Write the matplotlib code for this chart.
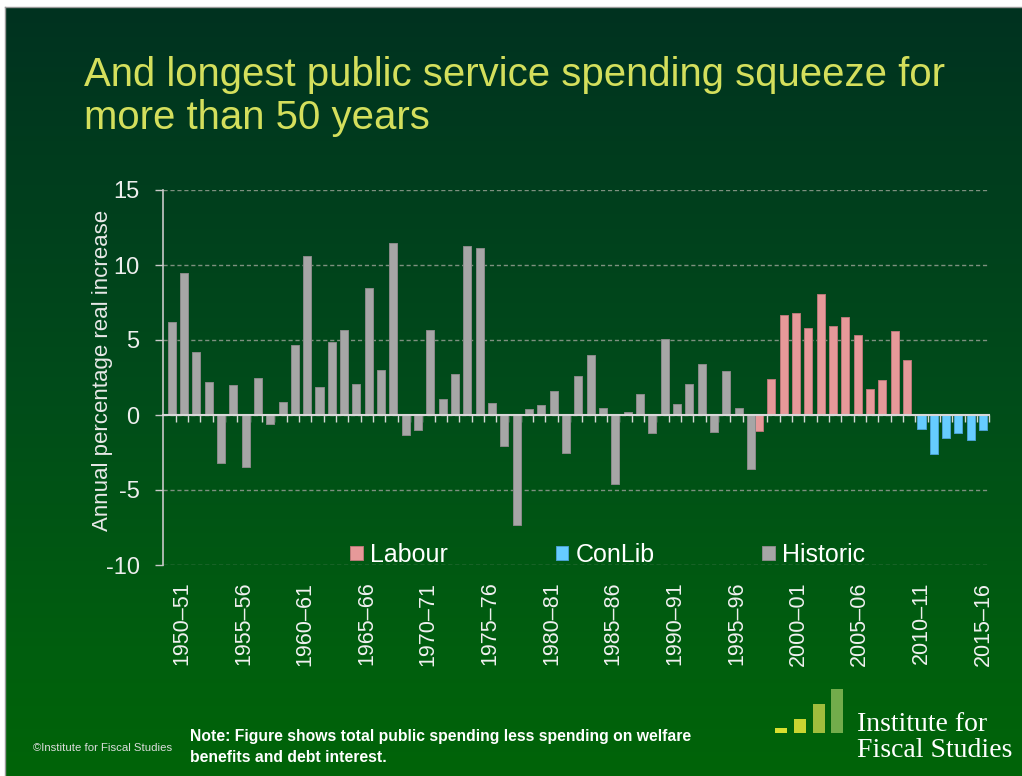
import numpy as np
import matplotlib.pyplot as plt
from matplotlib.patches import Rectangle

plt.rcParams['font.family'] = ['Liberation Sans', 'DejaVu Sans']
plt.rcParams['axes.unicode_minus'] = False

# Annual % real increase in public service spending, 1949-50 to 2015-16
years = [f"{y}–{str(y + 1)[-2:]}" for y in range(1949, 2016)]

historic = [6.2, 9.5, 4.2, 2.2, -3.2, 2.0, -3.45, 2.45, -0.6, 0.9,
            4.7, 10.6, 1.9, 4.85, 5.7, 2.1, 8.5, 3.0, 11.45, -1.35,
            -1.0, 5.7, 1.1, 2.75, 11.25, 11.15, 0.8, -2.05, -7.3, 0.4,
            0.7, 1.6, -2.5, 2.6, 4.0, 0.5, -4.6, 0.2, 1.4, -1.2,
            5.05, 0.75, 2.1, 3.4, -1.1, 2.95, 0.5, -3.6]
labour = [-1.05, 2.4, 6.65, 6.8, 5.8, 8.05, 5.95, 6.55, 5.35, 1.75,
          2.35, 5.6, 3.7]
conlib = [-0.9, -2.6, -1.55, -1.2, -1.65, -1.0]

tick_labels = ["1950–51", "1955–56", "1960–61", "1965–66", "1970–71",
               "1975–76", "1980–81", "1985–86", "1990–91", "1995–96",
               "2000–01", "2005–06", "2010–11", "2015–16"]

W, H = 1022, 776
fig = plt.figure(figsize=(W / 100, H / 100), dpi=100, facecolor='white')

# background gradient
bg = fig.add_axes([0, 0, 1, 1], zorder=-10)
bg.set_xlim(0, W)
bg.set_ylim(H, 0)
bg.axis('off')
t = np.linspace(0, 1, 400)
stops = [0.0, 0.5, 0.85, 1.0]
r = np.zeros_like(t)
g = np.interp(t, stops, [50, 76, 95, 100]) / 255
b = np.interp(t, stops, [32, 26, 14, 8]) / 255
grad = np.stack([r, g, b], axis=1)[:, None, :]
bg.imshow(grad, extent=[5, W, H, 7], aspect='auto', interpolation='bilinear')
bg.plot([5, W], [7, 7], color='#9A9A9A', lw=1)
bg.plot([5, 5], [7, H], color='#9A9A9A', lw=1)

# main chart
ax = fig.add_axes([163.3 / W, 1 - 565 / H, 826 / W, 375 / H])
ax.patch.set_alpha(0)

n = len(years)
x_all = np.arange(1, n + 1)
x_hist = x_all[:len(historic)]
x_lab = x_all[len(historic):len(historic) + len(labour)]
x_con = x_all[len(historic) + len(labour):]

bw = 0.65
ax.bar(x_lab - 0.17, labour, width=bw, color='#E69999', edgecolor='#B87878',
       lw=0.7, label='Labour', zorder=3)
ax.bar(x_con, conlib, width=bw, color='#66CCFF', edgecolor='#4AA0D0',
       lw=0.7, label='ConLib', zorder=3)
ax.bar(x_hist + 0.17, historic, width=bw, color='#A6A6A6', edgecolor='#8A8A8A',
       lw=0.7, label='Historic', zorder=3)

ax.set_xlim(0.5, n + 0.5)
ax.set_ylim(-10, 15)
ax.set_yticks([-10, -5, 0, 5, 10, 15])
ax.yaxis.grid(True, linestyle=(0, (3, 2)), color='#7E9080', lw=1.0)
ax.set_axisbelow(True)

for s in ['top', 'right']:
    ax.spines[s].set_visible(False)
ax.spines['left'].set_color('#C8C8C8')
ax.spines['left'].set_linewidth(1.2)
ax.spines['bottom'].set_position(('data', 0))
ax.spines['bottom'].set_color('#D8D8D8')
ax.spines['bottom'].set_linewidth(1.5)
ax.spines['bottom'].set_zorder(4)

ax.set_xticks([])
ax.set_xticks(np.arange(1.5, n + 1), minor=True)
ax.tick_params(axis='x', which='minor', length=5, width=1, color='#D8D8D8',
               direction='out')
ax.tick_params(axis='y', length=6, width=1, color='#C8C8C8', labelsize=17,
               labelcolor='#EEEEEE', pad=11)

sec = ax.secondary_xaxis(0.0)
sec.set_xticks([years.index(lbl) + 1 for lbl in tick_labels], labels=tick_labels)
sec.tick_params(length=0, pad=12, labelsize=15.5, labelcolor='#F0F0F0',
                labelrotation=90)
sec.spines['bottom'].set_visible(False)

fig.text(103 / W, 1 - 370 / H, 'Annual percentage real increase', rotation=90,
         ha='center', va='center', fontsize=16, color='#E8E8E8')

ax.legend(loc='center', bbox_to_anchor=(0.538, 0.027), ncol=3, frameon=False,
          fontsize=18, labelcolor='white', handlelength=0.5, handleheight=0.5,
          handletextpad=0.3, columnspacing=4.3)

# title
title_col = '#D4DF5C'
fig.text(84 / W, 1 - 86 / H, 'And longest public service spending squeeze for',
         fontsize=28.9, color=title_col, va='baseline')
fig.text(84 / W, 1 - 129 / H, 'more than 50 years',
         fontsize=28.9, color=title_col, va='baseline')

# footer
fig.text(190 / W, 1 - 737 / H,
         'Note: Figure shows total public spending less spending on welfare',
         fontsize=11.3, weight='bold', color='white', va='center')
fig.text(190 / W, 1 - 758 / H, 'benefits and debt interest.',
         fontsize=11.3, weight='bold', color='white', va='center')
fig.text(33 / W, 1 - 748 / H, '©Institute for Fiscal Studies', fontsize=8.2,
         color='#DDDDDD', va='center')

# IFS logo
logo_bars = [(775, 728, '#D7DF2F'), (794, 719, '#C9D531'),
             (813, 704, '#A0BD3D'), (831, 689, '#72AC4B')]
for lx, ly, lc in logo_bars:
    fig.add_artist(Rectangle((lx / W, 1 - 733 / H), 12 / W, (733 - ly) / H,
                             transform=fig.transFigure, color=lc, lw=0))
fig.text(857 / W, 1 - 731 / H, 'Institute for', fontsize=20, color='white',
         family='Liberation Serif', va='baseline')
fig.text(857 / W, 1 - 757 / H, 'Fiscal Studies', fontsize=20, color='white',
         family='Liberation Serif', va='baseline')

fig.savefig('out.png', dpi=100, facecolor=fig.get_facecolor())
